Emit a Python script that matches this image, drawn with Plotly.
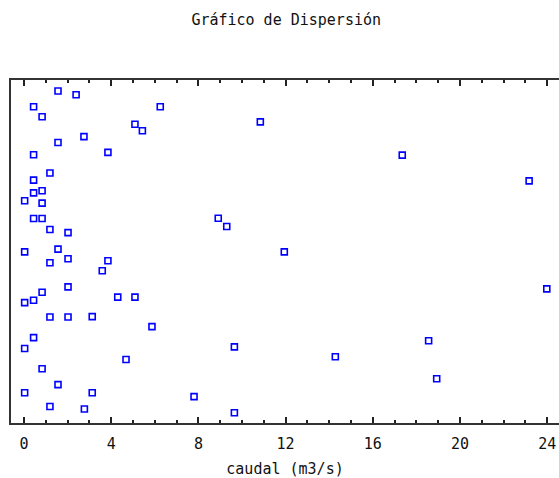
import plotly.graph_objects as go

# caudal (m3/s) values
caudal = [1.56, 2.39, 0.44, 6.25, 0.83, 5.09, 5.43, 2.75, 1.56, 0.44,
          3.85, 1.19, 0.44, 0.83, 0.44, 0.03, 0.83, 0.44, 0.83, 1.19,
          2.02, 0.03, 1.56, 1.19, 2.02, 3.85, 3.59, 2.02, 0.83, 0.44,
          0.03, 4.30, 5.09, 1.19, 2.02, 3.13, 5.87, 0.44, 0.03, 4.68,
          0.83, 1.56, 0.03, 3.13, 1.19, 2.77, 10.84, 8.91, 9.30, 11.94,
          9.65, 14.28, 7.80, 9.65, 17.35, 23.17, 23.98, 18.56, 18.93]

# vertical jitter (arbitrary units 0-100) as shown in the chart
jitter = [96.8, 95.7, 92.2, 92.2, 89.3, 87.1, 85.2, 83.5, 81.8, 78.2,
          78.9, 72.9, 70.8, 67.7, 67.1, 64.8, 64.1, 59.6, 59.6, 56.4,
          55.5, 49.9, 50.7, 46.7, 47.9, 47.3, 44.4, 39.7, 38.1, 35.8,
          35.1, 36.7, 36.7, 30.9, 30.9, 31.0, 28.1, 24.9, 21.7, 18.5,
          15.8, 11.2, 8.8, 8.8, 4.8, 4.1, 87.8, 59.7, 57.3, 49.9,
          22.2, 19.3, 7.7, 3.0, 78.1, 70.6, 39.1, 24.0, 12.9]

tick_vals = [0, 4, 8, 12, 16, 20, 24]

FONT = "DejaVu Sans Mono"

fig = go.Figure()
fig.add_trace(go.Scatter(
    x=caudal, y=jitter, mode="markers",
    marker=dict(symbol="square-open", size=6, color="#0000FF",
                line=dict(width=1.6, color="#0000FF")),
    showlegend=False, hoverinfo="x"))

fig.update_layout(
    width=559, height=478,
    margin=dict(l=11, r=0, t=80, b=55),
    paper_bgcolor="white", plot_bgcolor="white",
    title=dict(text="Gráfico de Dispersión", x=0.512, xanchor="center",
               y=1 - 20 / 478, yanchor="middle",
               font=dict(family=FONT, size=15, color="#111111")),
    xaxis=dict(range=[-0.596, 24.54], tickvals=tick_vals,
               ticktext=[str(v) for v in tick_vals],
               ticks="inside", ticklen=6, tickwidth=1.5, tickcolor="#222222",
               minor=dict(dtick=1, ticks="inside", ticklen=3, tickwidth=1.5,
                          tickcolor="#222222"),
               showline=True, linewidth=2, linecolor="#333333", mirror="ticks",
               showgrid=False, zeroline=False,
               ticklabelstandoff=6,
               tickfont=dict(family=FONT, size=15, color="#111111"),
               title=dict(text="caudal (m3/s)", standoff=12,
                          font=dict(family=FONT, size=15, color="#111111"))),
    yaxis=dict(range=[0, 100], showticklabels=False, ticks="",
               showline=True, linewidth=2, linecolor="#333333", mirror=False,
               showgrid=False, zeroline=False),
)

fig.write_html(
    "out.html",
    config={"displayModeBar": False},
    post_script="document.body.style.margin='0';document.body.style.overflow='hidden';",
)
